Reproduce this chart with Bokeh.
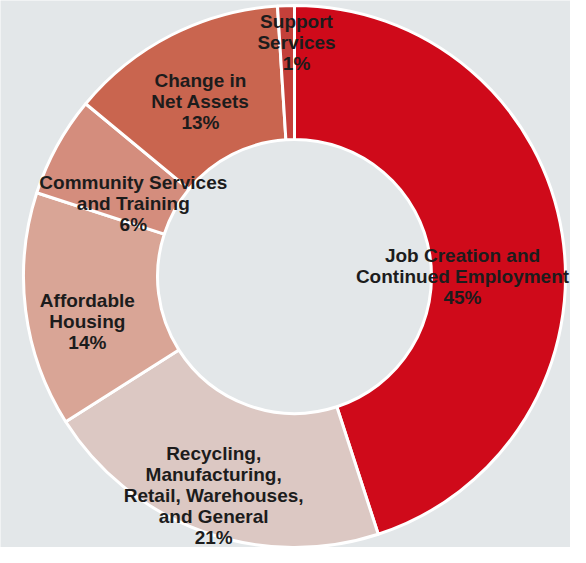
import math
from bokeh.plotting import figure
from bokeh.models import Range1d, ColumnDataSource
from bokeh.core.properties import value
from bokeh.embed import file_html
from bokeh.resources import INLINE

# ---- data ----
categories = [
    "Job Creation and\nContinued Employment",
    "Recycling,\nManufacturing,\nRetail, Warehouses,\nand General",
    "Affordable\nHousing",
    "Community Services\nand Training",
    "Change in\nNet Assets",
    "Support\nServices",
]
percents = [45, 21, 14, 6, 13, 1]
colors = ["#cf0a1a", "#dcc8c3", "#d9a596", "#d48d7d", "#c9654f", "#c4403a"]

# ---- styling / layout ----
W, H = 570, 547
BG = "#e3e7e9"
cx, cy = 294, 271
r_out, r_in = 271, 137
label_r = [168, 233, 212, 177, 199, 234]
label_dtheta = [-9, -0.5, 5.1, 4.4, 1.2, -2.3]

total = float(sum(percents))
starts, ends, lx, ly, texts = [], [], [], [], []
cum = 0.0
for i, v in enumerate(percents):
    a_end = math.pi / 2 - cum / total * 2 * math.pi
    cum += v
    a_start = math.pi / 2 - cum / total * 2 * math.pi
    starts.append(a_start)
    ends.append(a_end)
    mid = (a_start + a_end) / 2 + math.radians(label_dtheta[i])
    lx.append(cx + label_r[i] * math.cos(mid))
    ly.append(cy + label_r[i] * math.sin(mid))
    texts.append(f"{categories[i]}\n{v}%")

src = ColumnDataSource(dict(start=starts, end=ends, color=colors,
                            lx=lx, ly=ly, text=texts))

p = figure(width=W, height=H, output_backend="svg", toolbar_location=None,
           x_range=Range1d(0, W), y_range=Range1d(0, H),
           min_border=0, background_fill_color=BG, border_fill_color=BG)
p.axis.visible = False
p.grid.visible = False
p.outline_line_color = None

p.annular_wedge(x=cx, y=cy, inner_radius=r_in, outer_radius=r_out,
                start_angle="start", end_angle="end", direction="anticlock",
                fill_color="color", line_color="white", line_width=3,
                source=src)

p.text(x="lx", y="ly", text="text", source=src,
       text_align="center", text_baseline="middle",
       text_font=value("Liberation Sans"), text_font_style="bold",
       text_font_size="19px", text_line_height=1.0, text_color="#1c1c1c")

open("out.html", "w").write(file_html(p, INLINE))
